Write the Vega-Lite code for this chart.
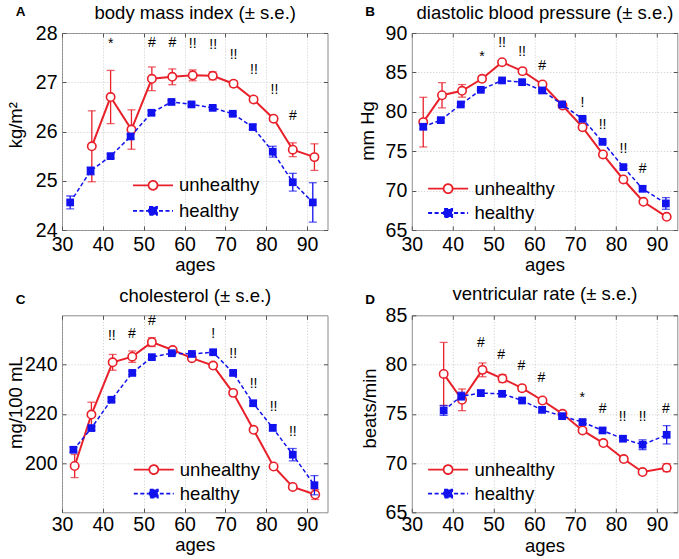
{
 "$schema": "https://vega.github.io/schema/vega-lite/v6.json",
 "padding": {"left": 5, "top": 2, "right": 0, "bottom": 0},
 "background": "white",
 "datasets": {
  "series": [
   {"panel":"A","group":"unhealthy","age":37.3,"value":25.70,"se":0.72},
   {"panel":"A","group":"unhealthy","age":41.9,"value":26.70,"se":0.54},
   {"panel":"A","group":"unhealthy","age":47.0,"value":26.04,"se":0.40},
   {"panel":"A","group":"unhealthy","age":52.0,"value":27.07,"se":0.24},
   {"panel":"A","group":"unhealthy","age":57.0,"value":27.11,"se":0.16},
   {"panel":"A","group":"unhealthy","age":62.0,"value":27.14,"se":0.11},
   {"panel":"A","group":"unhealthy","age":66.9,"value":27.13,"se":0.08},
   {"panel":"A","group":"unhealthy","age":72.0,"value":26.97,"se":0.06},
   {"panel":"A","group":"unhealthy","age":76.9,"value":26.65,"se":0.05},
   {"panel":"A","group":"unhealthy","age":81.8,"value":26.26,"se":0.05},
   {"panel":"A","group":"unhealthy","age":86.5,"value":25.63,"se":0.14},
   {"panel":"A","group":"unhealthy","age":91.8,"value":25.48,"se":0.27},
   {"panel":"A","group":"healthy","age":32.0,"value":24.56,"se":0.13},
   {"panel":"A","group":"healthy","age":37.0,"value":25.20,"se":0.08},
   {"panel":"A","group":"healthy","age":41.9,"value":25.50,"se":0.04},
   {"panel":"A","group":"healthy","age":46.8,"value":25.90,"se":0.05},
   {"panel":"A","group":"healthy","age":51.9,"value":26.38,"se":0.04},
   {"panel":"A","group":"healthy","age":56.8,"value":26.60,"se":0.03},
   {"panel":"A","group":"healthy","age":61.7,"value":26.55,"se":0.03},
   {"panel":"A","group":"healthy","age":66.9,"value":26.48,"se":0.03},
   {"panel":"A","group":"healthy","age":71.8,"value":26.36,"se":0.03},
   {"panel":"A","group":"healthy","age":76.7,"value":26.09,"se":0.05},
   {"panel":"A","group":"healthy","age":81.6,"value":25.59,"se":0.11},
   {"panel":"A","group":"healthy","age":86.5,"value":24.97,"se":0.18},
   {"panel":"A","group":"healthy","age":91.4,"value":24.56,"se":0.40},
   {"panel":"B","group":"unhealthy","age":32.8,"value":78.69,"se":3.15},
   {"panel":"B","group":"unhealthy","age":37.4,"value":82.10,"se":1.6},
   {"panel":"B","group":"unhealthy","age":42.3,"value":82.66,"se":0.8},
   {"panel":"B","group":"unhealthy","age":47.2,"value":84.19,"se":0.35},
   {"panel":"B","group":"unhealthy","age":52.1,"value":86.30,"se":0.25},
   {"panel":"B","group":"unhealthy","age":57.1,"value":85.16,"se":0.2},
   {"panel":"B","group":"unhealthy","age":62.0,"value":83.47,"se":0.15},
   {"panel":"B","group":"unhealthy","age":66.9,"value":80.80,"se":0.12},
   {"panel":"B","group":"unhealthy","age":71.8,"value":78.05,"se":0.1},
   {"panel":"B","group":"unhealthy","age":76.8,"value":74.59,"se":0.1},
   {"panel":"B","group":"unhealthy","age":81.8,"value":71.41,"se":0.1},
   {"panel":"B","group":"unhealthy","age":86.7,"value":68.58,"se":0.12},
   {"panel":"B","group":"unhealthy","age":92.4,"value":66.67,"se":0.2},
   {"panel":"B","group":"healthy","age":32.8,"value":78.10,"se":0.3},
   {"panel":"B","group":"healthy","age":37.1,"value":78.94,"se":0.2},
   {"panel":"B","group":"healthy","age":42.0,"value":80.93,"se":0.15},
   {"panel":"B","group":"healthy","age":46.9,"value":82.79,"se":0.12},
   {"panel":"B","group":"healthy","age":52.1,"value":83.98,"se":0.1},
   {"panel":"B","group":"healthy","age":57.0,"value":83.76,"se":0.1},
   {"panel":"B","group":"healthy","age":61.9,"value":82.71,"se":0.1},
   {"panel":"B","group":"healthy","age":66.8,"value":80.93,"se":0.1},
   {"panel":"B","group":"healthy","age":71.8,"value":79.11,"se":0.1},
   {"panel":"B","group":"healthy","age":76.7,"value":76.19,"se":0.15},
   {"panel":"B","group":"healthy","age":81.8,"value":72.98,"se":0.2},
   {"panel":"B","group":"healthy","age":86.5,"value":70.23,"se":0.3},
   {"panel":"B","group":"healthy","age":92.2,"value":68.37,"se":0.74},
   {"panel":"C","group":"unhealthy","age":33.1,"value":198.8,"se":4.7},
   {"panel":"C","group":"unhealthy","age":37.2,"value":219.7,"se":5.0},
   {"panel":"C","group":"unhealthy","age":42.4,"value":240.9,"se":3.2},
   {"panel":"C","group":"unhealthy","age":47.2,"value":243.2,"se":2.3},
   {"panel":"C","group":"unhealthy","age":52.0,"value":249.1,"se":1.8},
   {"panel":"C","group":"unhealthy","age":57.1,"value":245.9,"se":1.0},
   {"panel":"C","group":"unhealthy","age":61.8,"value":242.6,"se":0.8},
   {"panel":"C","group":"unhealthy","age":67.0,"value":239.6,"se":0.7},
   {"panel":"C","group":"unhealthy","age":71.9,"value":228.5,"se":0.7},
   {"panel":"C","group":"unhealthy","age":76.9,"value":213.5,"se":0.7},
   {"panel":"C","group":"unhealthy","age":81.8,"value":198.6,"se":0.8},
   {"panel":"C","group":"unhealthy","age":86.5,"value":190.3,"se":1.0},
   {"panel":"C","group":"unhealthy","age":92.0,"value":187.2,"se":2.0},
   {"panel":"C","group":"healthy","age":32.8,"value":205.4,"se":1.0},
   {"panel":"C","group":"healthy","age":37.2,"value":214.2,"se":0.8},
   {"panel":"C","group":"healthy","age":42.1,"value":225.7,"se":0.7},
   {"panel":"C","group":"healthy","age":47.2,"value":236.6,"se":0.7},
   {"panel":"C","group":"healthy","age":52.0,"value":243.0,"se":0.7},
   {"panel":"C","group":"healthy","age":56.9,"value":244.6,"se":0.6},
   {"panel":"C","group":"healthy","age":61.8,"value":244.3,"se":0.6},
   {"panel":"C","group":"healthy","age":67.0,"value":245.0,"se":0.7},
   {"panel":"C","group":"healthy","age":71.9,"value":236.6,"se":0.8},
   {"panel":"C","group":"healthy","age":76.8,"value":224.3,"se":1.0},
   {"panel":"C","group":"healthy","age":81.6,"value":214.3,"se":1.2},
   {"panel":"C","group":"healthy","age":86.5,"value":203.4,"se":2.5},
   {"panel":"C","group":"healthy","age":91.8,"value":191.0,"se":3.9},
   {"panel":"D","group":"unhealthy","age":37.8,"value":79.05,"se":3.2},
   {"panel":"D","group":"unhealthy","age":42.3,"value":76.42,"se":1.1},
   {"panel":"D","group":"unhealthy","age":47.3,"value":79.46,"se":0.7},
   {"panel":"D","group":"unhealthy","age":52.2,"value":78.58,"se":0.4},
   {"panel":"D","group":"unhealthy","age":57.0,"value":77.60,"se":0.3},
   {"panel":"D","group":"unhealthy","age":62.0,"value":76.35,"se":0.25},
   {"panel":"D","group":"unhealthy","age":66.9,"value":75.00,"se":0.2},
   {"panel":"D","group":"unhealthy","age":71.8,"value":73.31,"se":0.2},
   {"panel":"D","group":"unhealthy","age":76.9,"value":72.03,"se":0.2},
   {"panel":"D","group":"unhealthy","age":81.9,"value":70.41,"se":0.2},
   {"panel":"D","group":"unhealthy","age":86.5,"value":69.09,"se":0.25},
   {"panel":"D","group":"unhealthy","age":92.4,"value":69.53,"se":0.4},
   {"panel":"D","group":"healthy","age":37.8,"value":75.34,"se":0.5},
   {"panel":"D","group":"healthy","age":42.1,"value":76.79,"se":0.4},
   {"panel":"D","group":"healthy","age":46.9,"value":77.10,"se":0.3},
   {"panel":"D","group":"healthy","age":52.1,"value":77.03,"se":0.25},
   {"panel":"D","group":"healthy","age":57.0,"value":76.35,"se":0.2},
   {"panel":"D","group":"healthy","age":61.9,"value":75.40,"se":0.2},
   {"panel":"D","group":"healthy","age":66.8,"value":74.76,"se":0.2},
   {"panel":"D","group":"healthy","age":71.8,"value":74.16,"se":0.2},
   {"panel":"D","group":"healthy","age":76.7,"value":73.31,"se":0.2},
   {"panel":"D","group":"healthy","age":81.7,"value":72.47,"se":0.25},
   {"panel":"D","group":"healthy","age":86.5,"value":71.86,"se":0.5},
   {"panel":"D","group":"healthy","age":92.4,"value":72.87,"se":0.93}
  ],
  "ann": [
   {"panel":"A","age":41.9,"y":27.78,"label":"*"},
   {"panel":"A","age":52.0,"y":27.80,"label":"#"},
   {"panel":"A","age":57.0,"y":27.80,"label":"#"},
   {"panel":"A","age":62.0,"y":27.78,"label":"!!"},
   {"panel":"A","age":67.0,"y":27.75,"label":"!!"},
   {"panel":"A","age":72.0,"y":27.55,"label":"!!"},
   {"panel":"A","age":77.0,"y":27.24,"label":"!!"},
   {"panel":"A","age":82.0,"y":26.85,"label":"!!"},
   {"panel":"A","age":86.5,"y":26.31,"label":"#"},
   {"panel":"B","age":47.2,"y":86.9,"label":"*"},
   {"panel":"B","age":52.1,"y":88.76,"label":"!!"},
   {"panel":"B","age":57.0,"y":87.61,"label":"!!"},
   {"panel":"B","age":61.9,"y":85.8,"label":"#"},
   {"panel":"B","age":71.8,"y":81.14,"label":"!"},
   {"panel":"B","age":76.7,"y":78.31,"label":"!!"},
   {"panel":"B","age":81.8,"y":75.22,"label":"!!"},
   {"panel":"B","age":86.5,"y":72.68,"label":"#"},
   {"panel":"C","age":42.2,"y":251.4,"label":"!!"},
   {"panel":"C","age":47.1,"y":252.4,"label":"#"},
   {"panel":"C","age":52.0,"y":257.8,"label":"#"},
   {"panel":"C","age":67.0,"y":252.4,"label":"!"},
   {"panel":"C","age":71.9,"y":244.3,"label":"!!"},
   {"panel":"C","age":76.9,"y":231.9,"label":"!!"},
   {"panel":"C","age":81.8,"y":222.7,"label":"!!"},
   {"panel":"C","age":86.5,"y":212.6,"label":"!!"},
   {"panel":"D","age":46.9,"y":82.16,"label":"#"},
   {"panel":"D","age":51.9,"y":80.98,"label":"#"},
   {"panel":"D","age":56.8,"y":79.9,"label":"#"},
   {"panel":"D","age":61.7,"y":78.65,"label":"#"},
   {"panel":"D","age":71.7,"y":76.6,"label":"*"},
   {"panel":"D","age":76.7,"y":75.51,"label":"#"},
   {"panel":"D","age":81.6,"y":74.66,"label":"!!"},
   {"panel":"D","age":86.5,"y":74.66,"label":"!!"},
   {"panel":"D","age":92.2,"y":75.51,"label":"#"}
  ]
 },
 "columns": 2,
 "spacing": {"row": 85.3, "column": 83.8},
 "bounds": "flush",
 "resolve": {"scale": {"color": "independent"}, "legend": {"color": "independent"}},
 "concat": [
  {
   "width": 265.5, "height": 197,
   "resolve": {"axis": {"x": "independent", "y": "independent"}},
   "layer": [
    {"data": {"name": "series"}, "transform": [{"filter": "datum.panel === 'A' && datum.group === 'unhealthy'"}],
     "mark": {"type": "errorbar", "ticks": {"size": 8}, "thickness": 1.3, "color": "#e8202a"},
     "encoding": {"x": {"field": "age", "type": "quantitative", "scale": {"domain": [30, 95], "nice": false, "zero": false}, "axis": null},
      "y": {"field": "value", "type": "quantitative", "scale": {"domain": [24, 28], "nice": false, "zero": false}, "axis": null},
      "yError": {"field": "se"}}},
    {"data": {"name": "series"}, "transform": [{"filter": "datum.panel === 'A' && datum.group === 'unhealthy'"}],
     "mark": {"type": "line", "strokeWidth": 2},
     "encoding": {"x": {"field": "age", "type": "quantitative", "scale": {"domain": [30, 95], "nice": false, "zero": false},
        "axis": {"orient": "bottom", "values": [30,40,50,60,70,80,90], "title": "ages", "grid": true, "labelBaseline": "alphabetic", "labelPadding": 24, "titleY": 40.8}},
      "y": {"field": "value", "type": "quantitative", "scale": {"domain": [24, 28], "nice": false, "zero": false},
        "axis": {"orient": "left", "values": [24,25,26,27,28], "title": "kg/m²", "grid": true, "labelPadding": 9, "titleX": -40.6, "titleY": 91.7, "titleAngle": 270, "titleAlign": "center"}},
      "color": {"field": "group", "type": "nominal", "scale": {"domain": ["unhealthy", "healthy"], "range": ["#e8202a", "#1212ee"]},
        "legend": {"title": null, "orient": "none", "legendX": 80, "legendY": 141.3, "symbolSize": 400, "labelOffset": 15, "rowPadding": 4.5, "padding": 0, "labelFontSize": 18.5, "labelColor": "black",
          "encode": {"symbols": {"update": {
            "shape": {"signal": "datum.value === 'unhealthy' ? 'M-2,0L-0.45,0M0.45,0L2,0M-0.45,0A0.45,0.45,0,1,0,0.45,0A0.45,0.45,0,1,0,-0.45,0Z' : 'M-2,0L2,0M-0.4,-0.4L0.4,-0.4L0.4,0.4L-0.4,0.4Z'"},
            "fill": {"signal": "datum.value === 'unhealthy' ? 'white' : '#1212ee'"},
            "stroke": {"signal": "datum.value === 'unhealthy' ? '#e8202a' : '#1212ee'"},
            "strokeDash": {"signal": "datum.value === 'unhealthy' ? [1, 0] : [4, 2.5]"},
            "strokeWidth": {"value": 1.8}, "opacity": {"value": 1}}}}}}}},
    {"data": {"name": "series"}, "transform": [{"filter": "datum.panel === 'A' && datum.group === 'unhealthy'"}],
     "mark": {"type": "point", "shape": "circle", "filled": true, "fill": "white", "stroke": "#e8202a", "strokeWidth": 1.6, "size": 70, "opacity": 1},
     "encoding": {"x": {"field": "age", "type": "quantitative", "scale": {"domain": [30, 95], "nice": false, "zero": false}, "axis": null},
      "y": {"field": "value", "type": "quantitative", "scale": {"domain": [24, 28], "nice": false, "zero": false}, "axis": null}}},
    {"data": {"name": "series"}, "transform": [{"filter": "datum.panel === 'A' && datum.group === 'healthy'"}],
     "mark": {"type": "errorbar", "ticks": {"size": 8}, "thickness": 1.3, "color": "#1212ee"},
     "encoding": {"x": {"field": "age", "type": "quantitative", "scale": {"domain": [30, 95], "nice": false, "zero": false}, "axis": null},
      "y": {"field": "value", "type": "quantitative", "scale": {"domain": [24, 28], "nice": false, "zero": false}, "axis": null},
      "yError": {"field": "se"}}},
    {"data": {"name": "series"}, "transform": [{"filter": "datum.panel === 'A' && datum.group === 'healthy'"}],
     "mark": {"type": "line", "strokeWidth": 1.5, "strokeDash": [4, 2.5], "color": "#1212ee"},
     "encoding": {"x": {"field": "age", "type": "quantitative", "scale": {"domain": [30, 95], "nice": false, "zero": false}, "axis": null},
      "y": {"field": "value", "type": "quantitative", "scale": {"domain": [24, 28], "nice": false, "zero": false}, "axis": null}}},
    {"data": {"name": "series"}, "transform": [{"filter": "datum.panel === 'A' && datum.group === 'healthy'"}],
     "mark": {"type": "point", "shape": "square", "filled": true, "color": "#1212ee", "size": 60, "opacity": 1},
     "encoding": {"x": {"field": "age", "type": "quantitative", "scale": {"domain": [30, 95], "nice": false, "zero": false}, "axis": null},
      "y": {"field": "value", "type": "quantitative", "scale": {"domain": [24, 28], "nice": false, "zero": false}, "axis": null}}},
    {"data": {"name": "ann"}, "transform": [{"filter": "datum.panel === 'A'"}],
     "mark": {"type": "text", "fontSize": 14, "color": "black", "baseline": "middle", "align": "center"},
     "encoding": {"x": {"field": "age", "type": "quantitative", "scale": {"domain": [30, 95], "nice": false, "zero": false},
        "axis": {"orient": "top", "values": [30,40,50,60,70,80,90], "labels": false, "grid": false, "title": "body mass index (± s.e.)", "titleX": 132.75, "titleY": -15, "titleAlign": "center"}},
      "y": {"field": "y", "type": "quantitative", "scale": {"domain": [24, 28], "nice": false, "zero": false},
        "axis": {"orient": "right", "values": [24,25,26,27,28], "labels": false, "grid": false, "title": "A", "titleAngle": 0, "titleAlign": "left", "titleFontWeight": "bold", "titleFontSize": 13.5, "titleX": -312.2, "titleY": -17.8}},
      "text": {"field": "label"}}}
   ]
  },
  {
   "width": 265.5, "height": 197,
   "resolve": {"axis": {"x": "independent", "y": "independent"}},
   "layer": [
    {"data": {"name": "series"}, "transform": [{"filter": "datum.panel === 'B' && datum.group === 'unhealthy'"}],
     "mark": {"type": "errorbar", "ticks": {"size": 8}, "thickness": 1.3, "color": "#e8202a"},
     "encoding": {"x": {"field": "age", "type": "quantitative", "scale": {"domain": [30, 95], "nice": false, "zero": false}, "axis": null},
      "y": {"field": "value", "type": "quantitative", "scale": {"domain": [65, 90], "nice": false, "zero": false}, "axis": null},
      "yError": {"field": "se"}}},
    {"data": {"name": "series"}, "transform": [{"filter": "datum.panel === 'B' && datum.group === 'unhealthy'"}],
     "mark": {"type": "line", "strokeWidth": 2},
     "encoding": {"x": {"field": "age", "type": "quantitative", "scale": {"domain": [30, 95], "nice": false, "zero": false},
        "axis": {"orient": "bottom", "values": [30,40,50,60,70,80,90], "title": "ages", "grid": true, "labelBaseline": "alphabetic", "labelPadding": 24, "titleY": 40.8}},
      "y": {"field": "value", "type": "quantitative", "scale": {"domain": [65, 90], "nice": false, "zero": false},
        "axis": {"orient": "left", "values": [65,70,75,80,85,90], "title": "mm Hg", "grid": true, "labelPadding": 9, "titleX": -38.2, "titleY": 97.5, "titleAngle": 270, "titleAlign": "center"}},
      "color": {"field": "group", "type": "nominal", "scale": {"domain": ["unhealthy", "healthy"], "range": ["#e8202a", "#1212ee"]},
        "legend": {"title": null, "orient": "none", "legendX": 25.3, "legendY": 144.7, "symbolSize": 400, "labelOffset": 15.4, "rowPadding": 3.3, "padding": 0, "labelFontSize": 18.5, "labelColor": "black",
          "encode": {"symbols": {"update": {
            "shape": {"signal": "datum.value === 'unhealthy' ? 'M-2,0L-0.45,0M0.45,0L2,0M-0.45,0A0.45,0.45,0,1,0,0.45,0A0.45,0.45,0,1,0,-0.45,0Z' : 'M-2,0L2,0M-0.4,-0.4L0.4,-0.4L0.4,0.4L-0.4,0.4Z'"},
            "fill": {"signal": "datum.value === 'unhealthy' ? 'white' : '#1212ee'"},
            "stroke": {"signal": "datum.value === 'unhealthy' ? '#e8202a' : '#1212ee'"},
            "strokeDash": {"signal": "datum.value === 'unhealthy' ? [1, 0] : [4, 2.5]"},
            "strokeWidth": {"value": 1.8}, "opacity": {"value": 1}}}}}}}},
    {"data": {"name": "series"}, "transform": [{"filter": "datum.panel === 'B' && datum.group === 'unhealthy'"}],
     "mark": {"type": "point", "shape": "circle", "filled": true, "fill": "white", "stroke": "#e8202a", "strokeWidth": 1.6, "size": 70, "opacity": 1},
     "encoding": {"x": {"field": "age", "type": "quantitative", "scale": {"domain": [30, 95], "nice": false, "zero": false}, "axis": null},
      "y": {"field": "value", "type": "quantitative", "scale": {"domain": [65, 90], "nice": false, "zero": false}, "axis": null}}},
    {"data": {"name": "series"}, "transform": [{"filter": "datum.panel === 'B' && datum.group === 'healthy'"}],
     "mark": {"type": "errorbar", "ticks": {"size": 8}, "thickness": 1.3, "color": "#1212ee"},
     "encoding": {"x": {"field": "age", "type": "quantitative", "scale": {"domain": [30, 95], "nice": false, "zero": false}, "axis": null},
      "y": {"field": "value", "type": "quantitative", "scale": {"domain": [65, 90], "nice": false, "zero": false}, "axis": null},
      "yError": {"field": "se"}}},
    {"data": {"name": "series"}, "transform": [{"filter": "datum.panel === 'B' && datum.group === 'healthy'"}],
     "mark": {"type": "line", "strokeWidth": 1.5, "strokeDash": [4, 2.5], "color": "#1212ee"},
     "encoding": {"x": {"field": "age", "type": "quantitative", "scale": {"domain": [30, 95], "nice": false, "zero": false}, "axis": null},
      "y": {"field": "value", "type": "quantitative", "scale": {"domain": [65, 90], "nice": false, "zero": false}, "axis": null}}},
    {"data": {"name": "series"}, "transform": [{"filter": "datum.panel === 'B' && datum.group === 'healthy'"}],
     "mark": {"type": "point", "shape": "square", "filled": true, "color": "#1212ee", "size": 60, "opacity": 1},
     "encoding": {"x": {"field": "age", "type": "quantitative", "scale": {"domain": [30, 95], "nice": false, "zero": false}, "axis": null},
      "y": {"field": "value", "type": "quantitative", "scale": {"domain": [65, 90], "nice": false, "zero": false}, "axis": null}}},
    {"data": {"name": "ann"}, "transform": [{"filter": "datum.panel === 'B'"}],
     "mark": {"type": "text", "fontSize": 14, "color": "black", "baseline": "middle", "align": "center"},
     "encoding": {"x": {"field": "age", "type": "quantitative", "scale": {"domain": [30, 95], "nice": false, "zero": false},
        "axis": {"orient": "top", "values": [30,40,50,60,70,80,90], "labels": false, "grid": false, "title": "diastolic blood pressure (± s.e.)", "titleX": 132.75, "titleY": -15, "titleAlign": "center"}},
      "y": {"field": "y", "type": "quantitative", "scale": {"domain": [65, 90], "nice": false, "zero": false},
        "axis": {"orient": "right", "values": [65,70,75,80,85,90], "labels": false, "grid": false, "title": "B", "titleAngle": 0, "titleAlign": "left", "titleFontWeight": "bold", "titleFontSize": 13.5, "titleX": -312.5, "titleY": -17.8}},
      "text": {"field": "label"}}}
   ]
  },
  {
   "width": 265.5, "height": 197,
   "resolve": {"axis": {"x": "independent", "y": "independent"}},
   "layer": [
    {"data": {"name": "series"}, "transform": [{"filter": "datum.panel === 'C' && datum.group === 'unhealthy'"}],
     "mark": {"type": "errorbar", "ticks": {"size": 8}, "thickness": 1.3, "color": "#e8202a"},
     "encoding": {"x": {"field": "age", "type": "quantitative", "scale": {"domain": [30, 95], "nice": false, "zero": false}, "axis": null},
      "y": {"field": "value", "type": "quantitative", "scale": {"domain": [180, 260], "nice": false, "zero": false}, "axis": null},
      "yError": {"field": "se"}}},
    {"data": {"name": "series"}, "transform": [{"filter": "datum.panel === 'C' && datum.group === 'unhealthy'"}],
     "mark": {"type": "line", "strokeWidth": 2},
     "encoding": {"x": {"field": "age", "type": "quantitative", "scale": {"domain": [30, 95], "nice": false, "zero": false},
        "axis": {"orient": "bottom", "values": [30,40,50,60,70,80,90], "title": "ages", "grid": true, "labelBaseline": "alphabetic", "labelPadding": 22.5, "titleY": 37.8}},
      "y": {"field": "value", "type": "quantitative", "scale": {"domain": [180, 260], "nice": false, "zero": false},
        "axis": {"orient": "left", "values": [200,220,240], "title": "mg/100 mL", "grid": true, "labelPadding": 9, "titleX": -40.7, "titleY": 86.9, "titleAngle": 270, "titleAlign": "center"}},
      "color": {"field": "group", "type": "nominal", "scale": {"domain": ["unhealthy", "healthy"], "range": ["#e8202a", "#1212ee"]},
        "legend": {"title": null, "orient": "none", "legendX": 80.8, "legendY": 143.3, "symbolSize": 400, "labelOffset": 15, "rowPadding": 3, "padding": 0, "labelFontSize": 18.5, "labelColor": "black",
          "encode": {"symbols": {"update": {
            "shape": {"signal": "datum.value === 'unhealthy' ? 'M-2,0L-0.45,0M0.45,0L2,0M-0.45,0A0.45,0.45,0,1,0,0.45,0A0.45,0.45,0,1,0,-0.45,0Z' : 'M-2,0L2,0M-0.4,-0.4L0.4,-0.4L0.4,0.4L-0.4,0.4Z'"},
            "fill": {"signal": "datum.value === 'unhealthy' ? 'white' : '#1212ee'"},
            "stroke": {"signal": "datum.value === 'unhealthy' ? '#e8202a' : '#1212ee'"},
            "strokeDash": {"signal": "datum.value === 'unhealthy' ? [1, 0] : [4, 2.5]"},
            "strokeWidth": {"value": 1.8}, "opacity": {"value": 1}}}}}}}},
    {"data": {"name": "series"}, "transform": [{"filter": "datum.panel === 'C' && datum.group === 'unhealthy'"}],
     "mark": {"type": "point", "shape": "circle", "filled": true, "fill": "white", "stroke": "#e8202a", "strokeWidth": 1.6, "size": 70, "opacity": 1},
     "encoding": {"x": {"field": "age", "type": "quantitative", "scale": {"domain": [30, 95], "nice": false, "zero": false}, "axis": null},
      "y": {"field": "value", "type": "quantitative", "scale": {"domain": [180, 260], "nice": false, "zero": false}, "axis": null}}},
    {"data": {"name": "series"}, "transform": [{"filter": "datum.panel === 'C' && datum.group === 'healthy'"}],
     "mark": {"type": "errorbar", "ticks": {"size": 8}, "thickness": 1.3, "color": "#1212ee"},
     "encoding": {"x": {"field": "age", "type": "quantitative", "scale": {"domain": [30, 95], "nice": false, "zero": false}, "axis": null},
      "y": {"field": "value", "type": "quantitative", "scale": {"domain": [180, 260], "nice": false, "zero": false}, "axis": null},
      "yError": {"field": "se"}}},
    {"data": {"name": "series"}, "transform": [{"filter": "datum.panel === 'C' && datum.group === 'healthy'"}],
     "mark": {"type": "line", "strokeWidth": 1.5, "strokeDash": [4, 2.5], "color": "#1212ee"},
     "encoding": {"x": {"field": "age", "type": "quantitative", "scale": {"domain": [30, 95], "nice": false, "zero": false}, "axis": null},
      "y": {"field": "value", "type": "quantitative", "scale": {"domain": [180, 260], "nice": false, "zero": false}, "axis": null}}},
    {"data": {"name": "series"}, "transform": [{"filter": "datum.panel === 'C' && datum.group === 'healthy'"}],
     "mark": {"type": "point", "shape": "square", "filled": true, "color": "#1212ee", "size": 60, "opacity": 1},
     "encoding": {"x": {"field": "age", "type": "quantitative", "scale": {"domain": [30, 95], "nice": false, "zero": false}, "axis": null},
      "y": {"field": "value", "type": "quantitative", "scale": {"domain": [180, 260], "nice": false, "zero": false}, "axis": null}}},
    {"data": {"name": "ann"}, "transform": [{"filter": "datum.panel === 'C'"}],
     "mark": {"type": "text", "fontSize": 14, "color": "black", "baseline": "middle", "align": "center"},
     "encoding": {"x": {"field": "age", "type": "quantitative", "scale": {"domain": [30, 95], "nice": false, "zero": false},
        "axis": {"orient": "top", "values": [30,40,50,60,70,80,90], "labels": false, "grid": false, "title": "cholesterol (± s.e.)", "titleX": 132.75, "titleY": -14.3, "titleAlign": "center"}},
      "y": {"field": "y", "type": "quantitative", "scale": {"domain": [180, 260], "nice": false, "zero": false},
        "axis": {"orient": "right", "values": [200,220,240], "labels": false, "grid": false, "title": "C", "titleAngle": 0, "titleAlign": "left", "titleFontWeight": "bold", "titleFontSize": 13.5, "titleX": -312.2, "titleY": -12.3}},
      "text": {"field": "label"}}}
   ]
  },
  {
   "width": 265.5, "height": 197,
   "resolve": {"axis": {"x": "independent", "y": "independent"}},
   "layer": [
    {"data": {"name": "series"}, "transform": [{"filter": "datum.panel === 'D' && datum.group === 'unhealthy'"}],
     "mark": {"type": "errorbar", "ticks": {"size": 8}, "thickness": 1.3, "color": "#e8202a"},
     "encoding": {"x": {"field": "age", "type": "quantitative", "scale": {"domain": [30, 95], "nice": false, "zero": false}, "axis": null},
      "y": {"field": "value", "type": "quantitative", "scale": {"domain": [65, 85], "nice": false, "zero": false}, "axis": null},
      "yError": {"field": "se"}}},
    {"data": {"name": "series"}, "transform": [{"filter": "datum.panel === 'D' && datum.group === 'unhealthy'"}],
     "mark": {"type": "line", "strokeWidth": 2},
     "encoding": {"x": {"field": "age", "type": "quantitative", "scale": {"domain": [30, 95], "nice": false, "zero": false},
        "axis": {"orient": "bottom", "values": [30,40,50,60,70,80,90], "title": "ages", "grid": true, "labelBaseline": "alphabetic", "labelPadding": 22.5, "titleY": 39}},
      "y": {"field": "value", "type": "quantitative", "scale": {"domain": [65, 85], "nice": false, "zero": false},
        "axis": {"orient": "left", "values": [65,70,75,80,85], "title": "beats/min", "grid": true, "labelPadding": 9, "titleX": -36, "titleY": 92.7, "titleAngle": 270, "titleAlign": "center"}},
      "color": {"field": "group", "type": "nominal", "scale": {"domain": ["unhealthy", "healthy"], "range": ["#e8202a", "#1212ee"]},
        "legend": {"title": null, "orient": "none", "legendX": 25.3, "legendY": 143.3, "symbolSize": 400, "labelOffset": 15.4, "rowPadding": 3, "padding": 0, "labelFontSize": 18.5, "labelColor": "black",
          "encode": {"symbols": {"update": {
            "shape": {"signal": "datum.value === 'unhealthy' ? 'M-2,0L-0.45,0M0.45,0L2,0M-0.45,0A0.45,0.45,0,1,0,0.45,0A0.45,0.45,0,1,0,-0.45,0Z' : 'M-2,0L2,0M-0.4,-0.4L0.4,-0.4L0.4,0.4L-0.4,0.4Z'"},
            "fill": {"signal": "datum.value === 'unhealthy' ? 'white' : '#1212ee'"},
            "stroke": {"signal": "datum.value === 'unhealthy' ? '#e8202a' : '#1212ee'"},
            "strokeDash": {"signal": "datum.value === 'unhealthy' ? [1, 0] : [4, 2.5]"},
            "strokeWidth": {"value": 1.8}, "opacity": {"value": 1}}}}}}}},
    {"data": {"name": "series"}, "transform": [{"filter": "datum.panel === 'D' && datum.group === 'unhealthy'"}],
     "mark": {"type": "point", "shape": "circle", "filled": true, "fill": "white", "stroke": "#e8202a", "strokeWidth": 1.6, "size": 70, "opacity": 1},
     "encoding": {"x": {"field": "age", "type": "quantitative", "scale": {"domain": [30, 95], "nice": false, "zero": false}, "axis": null},
      "y": {"field": "value", "type": "quantitative", "scale": {"domain": [65, 85], "nice": false, "zero": false}, "axis": null}}},
    {"data": {"name": "series"}, "transform": [{"filter": "datum.panel === 'D' && datum.group === 'healthy'"}],
     "mark": {"type": "errorbar", "ticks": {"size": 8}, "thickness": 1.3, "color": "#1212ee"},
     "encoding": {"x": {"field": "age", "type": "quantitative", "scale": {"domain": [30, 95], "nice": false, "zero": false}, "axis": null},
      "y": {"field": "value", "type": "quantitative", "scale": {"domain": [65, 85], "nice": false, "zero": false}, "axis": null},
      "yError": {"field": "se"}}},
    {"data": {"name": "series"}, "transform": [{"filter": "datum.panel === 'D' && datum.group === 'healthy'"}],
     "mark": {"type": "line", "strokeWidth": 1.5, "strokeDash": [4, 2.5], "color": "#1212ee"},
     "encoding": {"x": {"field": "age", "type": "quantitative", "scale": {"domain": [30, 95], "nice": false, "zero": false}, "axis": null},
      "y": {"field": "value", "type": "quantitative", "scale": {"domain": [65, 85], "nice": false, "zero": false}, "axis": null}}},
    {"data": {"name": "series"}, "transform": [{"filter": "datum.panel === 'D' && datum.group === 'healthy'"}],
     "mark": {"type": "point", "shape": "square", "filled": true, "color": "#1212ee", "size": 60, "opacity": 1},
     "encoding": {"x": {"field": "age", "type": "quantitative", "scale": {"domain": [30, 95], "nice": false, "zero": false}, "axis": null},
      "y": {"field": "value", "type": "quantitative", "scale": {"domain": [65, 85], "nice": false, "zero": false}, "axis": null}}},
    {"data": {"name": "ann"}, "transform": [{"filter": "datum.panel === 'D'"}],
     "mark": {"type": "text", "fontSize": 14, "color": "black", "baseline": "middle", "align": "center"},
     "encoding": {"x": {"field": "age", "type": "quantitative", "scale": {"domain": [30, 95], "nice": false, "zero": false},
        "axis": {"orient": "top", "values": [30,40,50,60,70,80,90], "labels": false, "grid": false, "title": "ventricular rate (± s.e.)", "titleX": 132.75, "titleY": -15.7, "titleAlign": "center"}},
      "y": {"field": "y", "type": "quantitative", "scale": {"domain": [65, 85], "nice": false, "zero": false},
        "axis": {"orient": "right", "values": [65,70,75,80,85], "labels": false, "grid": false, "title": "D", "titleAngle": 0, "titleAlign": "left", "titleFontWeight": "bold", "titleFontSize": 13.5, "titleX": -312.5, "titleY": -12.3}},
      "text": {"field": "label"}}}
   ]
  }
 ],
 "config": {
  "font": "Liberation Sans",
  "view": {"stroke": "#8a8a8a", "strokeWidth": 1},
  "axis": {"domain": false, "labelFlush": false, "labelOverlap": false, "tickSize": -4, "tickColor": "#555555", "tickWidth": 1,
   "labelFontSize": 19.5, "labelColor": "black", "titleFontSize": 18.5, "titleFontWeight": "normal", "titleColor": "black", "titleBaseline": "alphabetic",
   "gridColor": "#bdbdbd", "gridDash": [1, 2], "gridWidth": 0.8},
  "legend": {"labelFont": "Liberation Sans"}
 }
}
